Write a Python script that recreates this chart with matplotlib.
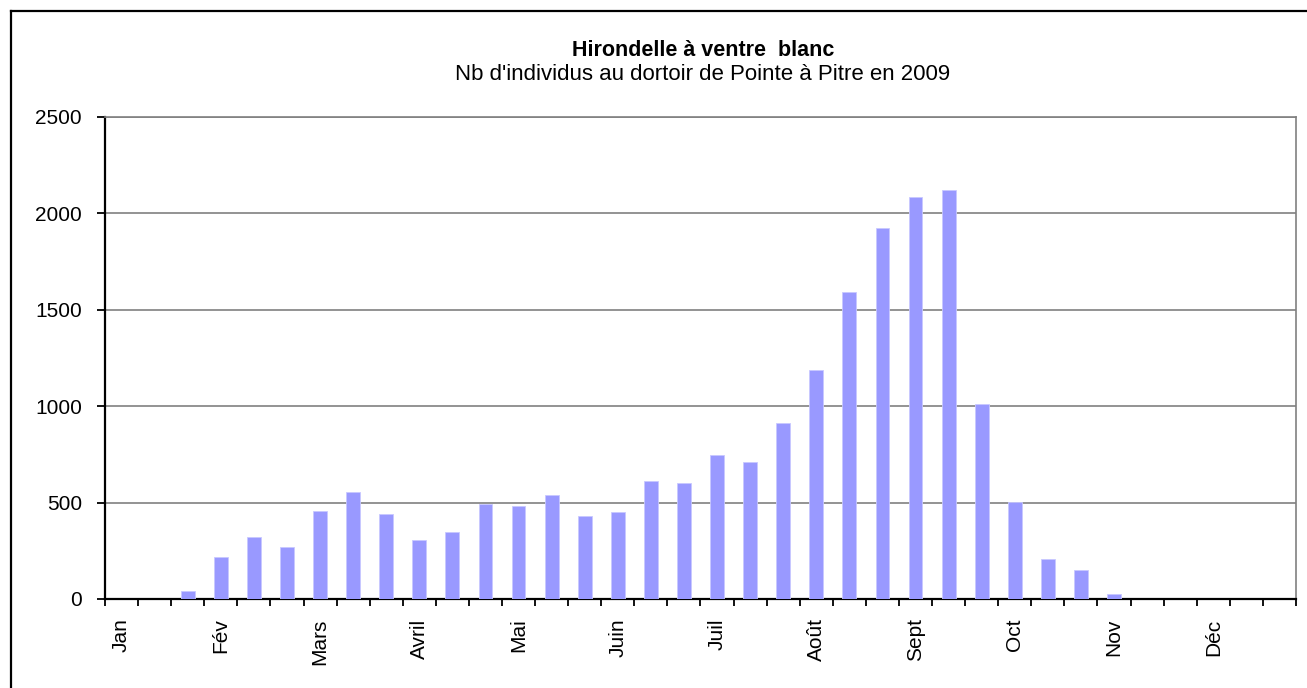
import matplotlib
matplotlib.use("Agg")
import matplotlib.pyplot as plt
from matplotlib.lines import Line2D
import numpy as np

plt.rcParams['font.family'] = ['Liberation Sans', 'DejaVu Sans']

months = ["Jan", "Fév", "Mars", "Avril", "Mai", "Juin", "Juil", "Août",
          "Sept", "Oct", "Nov", "Déc"]
counts = [0, 0, 40, 216, 323, 268, 456, 553, 439, 305, 350, 495,
          484, 540, 430, 450, 613, 603, 746, 711, 913, 1190, 1592, 1922,
          2083, 2119, 1012, 503, 206, 152, 26, 0, 0, 0, 0, 0]
yticks = [0, 500, 1000, 1500, 2000, 2500]
title = "Hirondelle à ventre  blanc"
subtitle = "Nb d'individus au dortoir de Pointe à Pitre en 2009"

fig = plt.figure(figsize=(13.07, 6.88), dpi=100)
ax = fig.add_axes([105/1307, 1-599/688, (1296-105)/1307, (599-117)/688])

n = len(counts)
x = np.arange(n)
ax.bar(x, counts, width=0.42, color='#9999ff', edgecolor='#c8c8ff',
       linewidth=0.6, zorder=3)

ax.set_xlim(-0.5, n - 0.5)
ax.set_ylim(0, 2500)
ax.set_yticks(yticks)
ax.set_yticklabels([str(v) for v in yticks], fontsize=15)
ax.yaxis.grid(True, color='#808080', linewidth=1.2, zorder=0)

ax.set_xticks(np.arange(-0.5, n, 1.0))
ax.set_xticklabels([])
ax.set_xticks(np.arange(0, n, 3), minor=True)
ax.set_xticklabels(months, minor=True, rotation=90, fontsize=15, va='top')
ax.tick_params(axis='x', which='major', length=5, width=1.3, direction='out',
               color='black')
ax.tick_params(axis='x', which='minor', length=0, pad=14)
ax.tick_params(axis='y', length=5.5, width=1.3, direction='out', pad=11)

for side in ['left', 'bottom']:
    ax.spines[side].set_color('black')
    ax.spines[side].set_linewidth(1.6)
for side in ['top', 'right']:
    ax.spines[side].set_color('#808080')
    ax.spines[side].set_linewidth(1.2)

cx = 703/1307
fig.text(cx, 1-50/688, title, ha='center', va='center', fontsize=15.5,
         fontweight='bold')
fig.text(cx, 1-74/688, subtitle, ha='center', va='center', fontsize=16)

fx = 11/1307
fy = 1 - 11/688
fig.add_artist(Line2D([fx, fx], [0, fy], color='black', linewidth=1.6,
                      transform=fig.transFigure))
fig.add_artist(Line2D([fx, 1], [fy, fy], color='black', linewidth=1.6,
                      transform=fig.transFigure))

fig.savefig("out.png", dpi=100)
